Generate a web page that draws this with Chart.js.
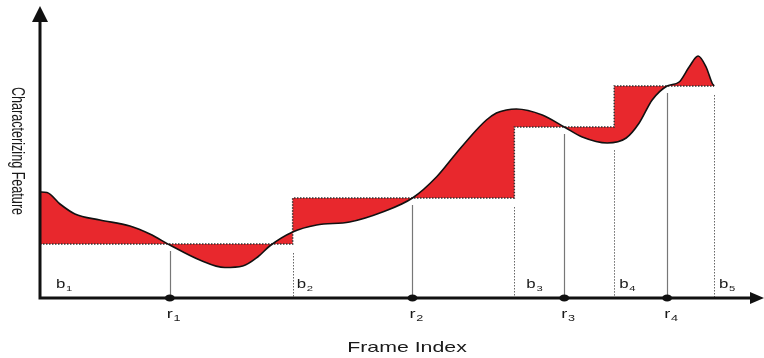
<!DOCTYPE html>
<html>
<head>
<meta charset="utf-8">
<script src="https://cdn.jsdelivr.net/npm/chart.js@4"></script>
<style>
  html,body{margin:0;padding:0;background:#fff}
  #wrap{width:764px;height:358px;position:relative}
</style>
</head>
<body>
<div id="wrap"><canvas id="featureChart"></canvas></div>
<script>

// curve samples (frame index, feature value)
const frames = [
    0, 1.4, 4, 7, 12, 18, 22, 26, 32, 37, 40.6, 43.6, 46, 50.6, 55.4, 62, 68.6,
    74.6, 79.4, 83.4, 87.4, 89.4, 91.4, 93.4, 95.4, 100.6, 105, 108.6, 113.6, 117.4,
    120, 122.6, 125.6, 128, 130, 131.8, 133.4, 134.6, 135
]
const feature = [
    21.2, 21.1, 18.8, 16.8, 15.6, 14.4, 12.8, 10.6, 7.6, 6.1, 6.4, 8.2, 10.4, 13.2, 14.6, 15.2, 17.2,
    20.0, 24.2, 29.0, 33.6, 35.6, 37.0, 37.6, 37.8, 36.6, 34.2, 32.2, 31.0, 32.0,
    35.0, 39.6, 42.4, 43.2, 46.2, 48.4, 46.2, 43.0, 42.4
]

// shot boundaries b1..b5 and the step level held from each one
const boundaryFrames = [0, 50.6, 95, 115, 135]
const stepLevels = [10.8, 20, 34.2, 42.4, 42.4]
const boundaryNames = ["1", "2", "3", "4", "5"]

// representative frames r1..r4
const repFrames = [26, 74.6, 105, 125.6]
const repNames = ["1", "2", "3", "4"]

const xMax = 145
const yMax = 58

const FONT = "'Liberation Sans', Arial, sans-serif"

function curveAt(f){
    for(let i = 1; i < frames.length; i++){
        if(f <= frames[i]){
            const t = (f - frames[i-1]) / (frames[i] - frames[i-1])
            return feature[i-1] + t * (feature[i] - feature[i-1])
        }
    }
    return feature[feature.length - 1]
}

function levelAt(f){
    let lv = stepLevels[0]
    for(let i = 0; i < boundaryFrames.length; i++){
        if(f >= boundaryFrames[i]) lv = stepLevels[i]
    }
    return lv
}

// letter with a subscript, stretched sideways like the scanned figure
function subLabel(ctx, main, sub, x, y, size){
    ctx.save()
    ctx.translate(x, y)
    ctx.scale(1.4, 1)
    ctx.font = size + "px " + FONT
    ctx.fillText(main, 0, 0)
    const w = ctx.measureText(main).width
    ctx.font = Math.round(size * 0.7) + "px " + FONT
    ctx.fillText(sub, w + 0.5, 3)
    ctx.restore()
}

const decorations = {
    id:"decorations",
    afterDatasetsDraw(chart){
        const ctx = chart.ctx
        const xs = chart.scales.x
        const ys = chart.scales.y
        const x0 = xs.getPixelForValue(0)
        const y0 = ys.getPixelForValue(0)

        ctx.save()

        // dotted boundary lines
        ctx.strokeStyle = "#666"
        ctx.lineWidth = 1
        ctx.setLineDash([1.5, 1.5])
        for(let i = 1; i < boundaryFrames.length; i++){
            const f = boundaryFrames[i]
            const top = Math.min(stepLevels[i-1], curveAt(f)) - 1.8
            const px = Math.round(xs.getPixelForValue(f)) + 0.5
            ctx.beginPath()
            ctx.moveTo(px, ys.getPixelForValue(top))
            ctx.lineTo(px, y0)
            ctx.stroke()
        }

        // solid lines for representative frames
        ctx.setLineDash([])
        ctx.strokeStyle = "#777"
        ctx.lineWidth = 1.2
        repFrames.forEach(f => {
            const px = Math.round(xs.getPixelForValue(f)) + 0.5
            ctx.beginPath()
            ctx.moveTo(px, ys.getPixelForValue(levelAt(f) - 1.4))
            ctx.lineTo(px, y0)
            ctx.stroke()
        })

        // axes
        ctx.strokeStyle = "#111"
        ctx.fillStyle = "#111"
        ctx.lineWidth = 3
        ctx.beginPath()
        ctx.moveTo(x0, y0)
        ctx.lineTo(x0, 20)
        ctx.moveTo(x0 - 1.5, y0)
        ctx.lineTo(752, y0)
        ctx.stroke()
        ctx.beginPath()
        ctx.moveTo(x0, 6)
        ctx.lineTo(x0 - 8, 22)
        ctx.lineTo(x0 + 8, 22)
        ctx.closePath()
        ctx.fill()
        ctx.beginPath()
        ctx.moveTo(764, y0)
        ctx.lineTo(750, y0 - 6)
        ctx.lineTo(750, y0 + 6)
        ctx.closePath()
        ctx.fill()

        // dots on the axis
        repFrames.forEach(f => {
            ctx.beginPath()
            ctx.ellipse(xs.getPixelForValue(f), y0, 5, 3.5, 0, 0, Math.PI * 2)
            ctx.fill()
        })

        // labels
        ctx.fillStyle = "#1a1a1a"
        ctx.textBaseline = "alphabetic"
        ctx.textAlign = "left"
        const bOff = [16, 4, 12, 5, 5]
        boundaryFrames.forEach((f, i) => {
            subLabel(ctx, "b", boundaryNames[i], xs.getPixelForValue(f) + bOff[i], 288, 12)
        })
        repFrames.forEach((f, i) => {
            subLabel(ctx, "r", repNames[i], xs.getPixelForValue(f) - 3, 318, 13)
        })

        ctx.save()
        ctx.font = "15px " + FONT
        ctx.textAlign = "center"
        ctx.translate(407, 352)
        ctx.scale(1.42, 1)
        ctx.fillText("Frame Index", 0, 0)
        ctx.restore()

        ctx.save()
        ctx.font = "18px " + FONT
        ctx.textAlign = "center"
        ctx.translate(12, 151)
        ctx.rotate(Math.PI / 2)
        ctx.scale(0.7, 1)
        ctx.fillText("Characterizing Feature", 0, 0)
        ctx.restore()

        ctx.restore()
    }
}

new Chart(
    document.getElementById("featureChart"),
    {
        type:"line",
        data:{
            datasets:[
                {
                    label:"Feature",
                    data:frames.map((f, i) => ({x:f, y:feature[i]})),
                    borderColor:"#111",
                    borderWidth:1.6,
                    backgroundColor:"#e8282d",
                    fill:{target:1},
                    cubicInterpolationMode:"monotone",
                    pointRadius:0
                },
                {
                    label:"Key level",
                    data:boundaryFrames.map((f, i) => ({x:f, y:stepLevels[i]})),
                    borderColor:"#333",
                    borderWidth:1.5,
                    borderDash:[1.5, 1.5],
                    stepped:"before",
                    fill:false,
                    pointRadius:0
                }
            ]
        },
        options:{
            responsive:true,
            maintainAspectRatio:false,
            animation:false,
            layout:{
                padding:{left:40, right:0, top:8, bottom:60}
            },
            scales:{
                x:{type:"linear", min:0, max:xMax, display:false},
                y:{min:0, max:yMax, display:false}
            },
            plugins:{
                legend:{display:false},
                tooltip:{enabled:false},
                filler:{drawTime:"beforeDatasetsDraw"}
            }
        },
        plugins:[decorations]
    }
)
</script>
</body>
</html>
